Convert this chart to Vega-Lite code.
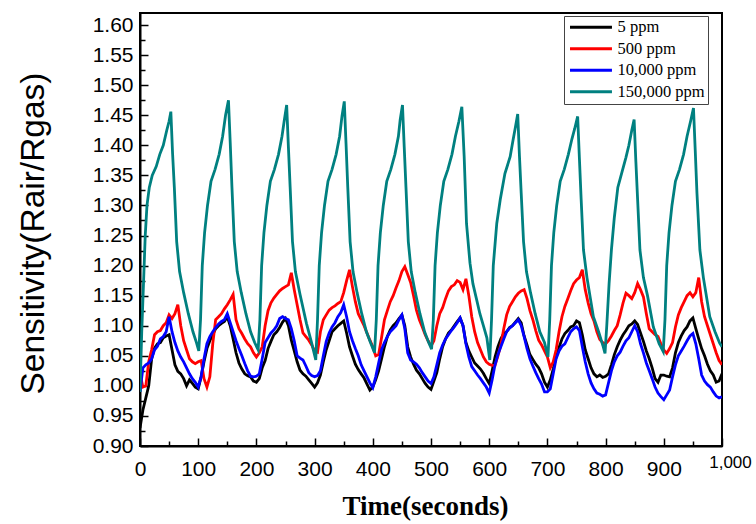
{
"$schema": "https://vega.github.io/schema/vega-lite/v6.json",
"width": 582, "height": 433,
"autosize": {"type": "none"},
"padding": {"left": 140, "top": 13, "right": 34, "bottom": 78},
"background": "white",
"config": {"view": {"stroke": "black", "strokeWidth": 2}, "legend": {"strokeWidth": 1}},
"data": {"values": [
{"t":0,"k":0.93,"r":1.02,"b":0.99},{"t":5,"k":0.96,"r":0.998,"b":1.03},{"t":10,"k":0.98,"r":1.0,"b":1.035},{"t":15,"k":1.0,"r":1.04,"b":1.038},{"t":20,"k":1.045,"r":1.06,"b":1.045},{"t":25,"k":1.063,"r":1.085,"b":1.06},{"t":30,"k":1.07,"r":1.09,"b":1.066},{"t":35,"k":1.072,"r":1.092,"b":1.078},{"t":40,"k":1.08,"r":1.1,"b":1.082},{"t":45,"k":1.083,"r":1.105,"b":1.09},
{"t":50,"k":1.085,"r":1.118,"b":1.115},{"t":55,"k":1.06,"r":1.112,"b":1.09},{"t":60,"k":1.035,"r":1.12,"b":1.072},{"t":65,"k":1.024,"r":1.135,"b":1.058},{"t":70,"k":1.02,"r":1.1,"b":1.048},{"t":75,"k":1.012,"r":1.075,"b":1.04},{"t":80,"k":1.0,"r":1.06,"b":1.03},{"t":85,"k":1.01,"r":1.045,"b":1.02},{"t":90,"k":1.004,"r":1.04,"b":1.012},{"t":95,"k":0.998,"r":1.037,"b":1.006},
{"t":100,"k":0.995,"r":1.04,"b":0.998},{"t":105,"k":1.015,"r":1.042,"b":1.015},{"t":110,"k":1.04,"r":1.012,"b":1.045},{"t":115,"k":1.062,"r":0.998,"b":1.07},{"t":120,"k":1.075,"r":1.015,"b":1.082},{"t":125,"k":1.085,"r":1.07,"b":1.09},{"t":130,"k":1.095,"r":1.11,"b":1.097},{"t":135,"k":1.1,"r":1.115,"b":1.103},{"t":140,"k":1.104,"r":1.12,"b":1.107},{"t":145,"k":1.107,"r":1.128,"b":1.11},
{"t":150,"k":1.115,"r":1.135,"b":1.12},{"t":155,"k":1.1,"r":1.143,"b":1.105},{"t":160,"k":1.078,"r":1.152,"b":1.09},{"t":165,"k":1.055,"r":1.11,"b":1.075},{"t":170,"k":1.038,"r":1.095,"b":1.062},{"t":175,"k":1.028,"r":1.087,"b":1.05},{"t":180,"k":1.02,"r":1.078,"b":1.037},{"t":185,"k":1.017,"r":1.07,"b":1.025},{"t":190,"k":1.015,"r":1.065,"b":1.016},{"t":195,"k":1.008,"r":1.055,"b":1.015},
{"t":200,"k":1.006,"r":1.048,"b":1.016},{"t":205,"k":1.012,"r":1.055,"b":1.02},{"t":210,"k":1.03,"r":1.065,"b":1.045},{"t":215,"k":1.042,"r":1.1,"b":1.072},{"t":220,"k":1.062,"r":1.125,"b":1.08},{"t":225,"k":1.074,"r":1.138,"b":1.088},{"t":230,"k":1.085,"r":1.146,"b":1.093},{"t":235,"k":1.09,"r":1.152,"b":1.1},{"t":240,"k":1.097,"r":1.158,"b":1.112},{"t":245,"k":1.106,"r":1.162,"b":1.115},
{"t":250,"k":1.112,"r":1.165,"b":1.112},{"t":255,"k":1.1,"r":1.168,"b":1.11},{"t":260,"k":1.076,"r":1.188,"b":1.095},{"t":265,"k":1.058,"r":1.16,"b":1.075},{"t":270,"k":1.04,"r":1.135,"b":1.05},{"t":275,"k":1.026,"r":1.11,"b":1.046},{"t":280,"k":1.02,"r":1.088,"b":1.043},{"t":285,"k":1.016,"r":1.082,"b":1.033},{"t":290,"k":1.01,"r":1.076,"b":1.022},{"t":295,"k":1.004,"r":1.068,"b":1.017},
{"t":300,"k":0.998,"r":1.058,"b":1.015},{"t":305,"k":1.005,"r":1.056,"b":1.017},{"t":310,"k":1.018,"r":1.09,"b":1.025},{"t":315,"k":1.04,"r":1.11,"b":1.05},{"t":320,"k":1.06,"r":1.118,"b":1.074},{"t":325,"k":1.075,"r":1.126,"b":1.088},{"t":330,"k":1.09,"r":1.13,"b":1.098},{"t":335,"k":1.095,"r":1.133,"b":1.105},{"t":340,"k":1.1,"r":1.137,"b":1.115},{"t":345,"k":1.104,"r":1.14,"b":1.122},
{"t":350,"k":1.108,"r":1.155,"b":1.135},{"t":355,"k":1.088,"r":1.175,"b":1.115},{"t":360,"k":1.065,"r":1.193,"b":1.09},{"t":365,"k":1.05,"r":1.165,"b":1.075},{"t":370,"k":1.036,"r":1.14,"b":1.062},{"t":375,"k":1.027,"r":1.12,"b":1.05},{"t":380,"k":1.02,"r":1.11,"b":1.035},{"t":385,"k":1.013,"r":1.1,"b":1.025},{"t":390,"k":1.003,"r":1.088,"b":1.015},{"t":395,"k":0.993,"r":1.076,"b":1.005},
{"t":400,"k":0.998,"r":1.065,"b":0.997},{"t":405,"k":1.01,"r":1.05,"b":1.015},{"t":410,"k":1.025,"r":1.052,"b":1.038},{"t":415,"k":1.045,"r":1.08,"b":1.06},{"t":420,"k":1.065,"r":1.11,"b":1.072},{"t":425,"k":1.082,"r":1.125,"b":1.082},{"t":430,"k":1.093,"r":1.14,"b":1.09},{"t":435,"k":1.1,"r":1.15,"b":1.095},{"t":440,"k":1.105,"r":1.163,"b":1.1},{"t":445,"k":1.112,"r":1.175,"b":1.11},
{"t":450,"k":1.118,"r":1.19,"b":1.118},{"t":455,"k":1.1,"r":1.198,"b":1.095},{"t":460,"k":1.065,"r":1.185,"b":1.055},{"t":465,"k":1.048,"r":1.172,"b":1.043},{"t":470,"k":1.036,"r":1.15,"b":1.04},{"t":475,"k":1.026,"r":1.126,"b":1.036},{"t":480,"k":1.02,"r":1.11,"b":1.03},{"t":485,"k":1.012,"r":1.098,"b":1.022},{"t":490,"k":1.004,"r":1.085,"b":1.015},{"t":495,"k":0.998,"r":1.075,"b":1.008},
{"t":500,"k":0.994,"r":1.066,"b":1.004},{"t":505,"k":1.008,"r":1.075,"b":1.015},{"t":510,"k":1.022,"r":1.1,"b":1.035},{"t":515,"k":1.045,"r":1.12,"b":1.055},{"t":520,"k":1.065,"r":1.13,"b":1.068},{"t":525,"k":1.078,"r":1.145,"b":1.078},{"t":530,"k":1.088,"r":1.158,"b":1.085},{"t":535,"k":1.093,"r":1.165,"b":1.092},{"t":540,"k":1.1,"r":1.168,"b":1.098},{"t":545,"k":1.107,"r":1.175,"b":1.105},
{"t":550,"k":1.113,"r":1.172,"b":1.113},{"t":555,"k":1.1,"r":1.16,"b":1.1},{"t":560,"k":1.072,"r":1.178,"b":1.07},{"t":565,"k":1.058,"r":1.15,"b":1.048},{"t":570,"k":1.048,"r":1.115,"b":1.032},{"t":575,"k":1.038,"r":1.09,"b":1.025},{"t":580,"k":1.033,"r":1.072,"b":1.018},{"t":585,"k":1.028,"r":1.06,"b":1.012},{"t":590,"k":1.021,"r":1.048,"b":1.005},{"t":595,"k":1.012,"r":1.04,"b":0.998},
{"t":600,"k":1.004,"r":1.036,"b":0.988},{"t":605,"k":1.025,"r":1.034,"b":1.01},{"t":610,"k":1.048,"r":1.034,"b":1.035},{"t":615,"k":1.065,"r":1.05,"b":1.052},{"t":620,"k":1.078,"r":1.068,"b":1.065},{"t":625,"k":1.087,"r":1.095,"b":1.078},{"t":630,"k":1.09,"r":1.118,"b":1.09},{"t":635,"k":1.097,"r":1.132,"b":1.096},{"t":640,"k":1.1,"r":1.14,"b":1.1},{"t":645,"k":1.106,"r":1.148,"b":1.105},
{"t":650,"k":1.112,"r":1.154,"b":1.11},{"t":655,"k":1.105,"r":1.158,"b":1.1},{"t":660,"k":1.083,"r":1.16,"b":1.082},{"t":665,"k":1.068,"r":1.145,"b":1.062},{"t":670,"k":1.052,"r":1.125,"b":1.045},{"t":675,"k":1.044,"r":1.11,"b":1.033},{"t":680,"k":1.036,"r":1.092,"b":1.022},{"t":685,"k":1.03,"r":1.076,"b":1.012},{"t":690,"k":1.02,"r":1.068,"b":1.003},{"t":695,"k":1.006,"r":1.058,"b":0.99},
{"t":700,"k":0.998,"r":1.048,"b":0.99},{"t":705,"k":1.01,"r":1.03,"b":0.995},{"t":710,"k":1.028,"r":1.04,"b":1.02},{"t":715,"k":1.048,"r":1.06,"b":1.045},{"t":720,"k":1.064,"r":1.09,"b":1.058},{"t":725,"k":1.078,"r":1.115,"b":1.066},{"t":730,"k":1.087,"r":1.132,"b":1.07},{"t":735,"k":1.092,"r":1.145,"b":1.08},{"t":740,"k":1.098,"r":1.158,"b":1.09},{"t":745,"k":1.1,"r":1.17,"b":1.095},
{"t":750,"k":1.108,"r":1.176,"b":1.098},{"t":755,"k":1.105,"r":1.18,"b":1.092},{"t":760,"k":1.085,"r":1.193,"b":1.065},{"t":765,"k":1.06,"r":1.16,"b":1.04},{"t":770,"k":1.045,"r":1.138,"b":1.02},{"t":775,"k":1.03,"r":1.12,"b":1.005},{"t":780,"k":1.02,"r":1.108,"b":0.995},{"t":785,"k":1.015,"r":1.09,"b":0.988},{"t":790,"k":1.018,"r":1.077,"b":0.986},{"t":795,"k":1.014,"r":1.072,"b":0.983},
{"t":800,"k":1.016,"r":1.07,"b":0.985},{"t":805,"k":1.02,"r":1.075,"b":1.005},{"t":810,"k":1.035,"r":1.083,"b":1.025},{"t":815,"k":1.052,"r":1.092,"b":1.04},{"t":820,"k":1.065,"r":1.1,"b":1.05},{"t":825,"k":1.076,"r":1.118,"b":1.056},{"t":830,"k":1.085,"r":1.138,"b":1.066},{"t":835,"k":1.092,"r":1.154,"b":1.075},{"t":840,"k":1.1,"r":1.15,"b":1.08},{"t":845,"k":1.103,"r":1.145,"b":1.09},
{"t":850,"k":1.108,"r":1.155,"b":1.1},{"t":855,"k":1.102,"r":1.17,"b":1.09},{"t":860,"k":1.088,"r":1.16,"b":1.07},{"t":865,"k":1.074,"r":1.148,"b":1.055},{"t":870,"k":1.058,"r":1.12,"b":1.038},{"t":875,"k":1.045,"r":1.095,"b":1.025},{"t":880,"k":1.03,"r":1.09,"b":1.012},{"t":885,"k":1.012,"r":1.085,"b":0.998},{"t":890,"k":1.006,"r":1.082,"b":0.988},{"t":895,"k":1.018,"r":1.07,"b":0.982},
{"t":900,"k":1.018,"r":1.06,"b":0.977},{"t":905,"k":1.016,"r":1.054,"b":0.985},{"t":910,"k":1.015,"r":1.062,"b":0.993},{"t":915,"k":1.03,"r":1.072,"b":1.015},{"t":920,"k":1.055,"r":1.098,"b":1.035},{"t":925,"k":1.072,"r":1.118,"b":1.05},{"t":930,"k":1.083,"r":1.13,"b":1.058},{"t":935,"k":1.092,"r":1.14,"b":1.066},{"t":940,"k":1.098,"r":1.15,"b":1.075},{"t":945,"k":1.108,"r":1.155,"b":1.083},
{"t":950,"k":1.113,"r":1.148,"b":1.087},{"t":955,"k":1.095,"r":1.155,"b":1.07},{"t":960,"k":1.078,"r":1.18,"b":1.045},{"t":965,"k":1.062,"r":1.14,"b":1.018},{"t":970,"k":1.05,"r":1.115,"b":1.008},{"t":975,"k":1.036,"r":1.1,"b":1.002},{"t":980,"k":1.025,"r":1.085,"b":0.998},{"t":985,"k":1.018,"r":1.07,"b":0.99},{"t":990,"k":1.006,"r":1.055,"b":0.983},{"t":995,"k":1.008,"r":1.042,"b":0.98},
{"t":1000,"k":1.02,"r":1.035,"b":0.982},
{"t":0,"g":0.99},{"t":3,"g":1.09},{"t":6,"g":1.17},{"t":9,"g":1.25},{"t":12,"g":1.3},{"t":16,"g":1.33},{"t":21,"g":1.35},{"t":28,"g":1.365},{"t":34,"g":1.385},{"t":40,"g":1.4},{"t":46,"g":1.425},{"t":50,"g":1.44},{"t":53,"g":1.456},{"t":56,"g":1.386},{"t":59,"g":1.33},{"t":63,"g":1.24},{"t":68,"g":1.19},{"t":75,"g":1.155},{"t":83,"g":1.12},{"t":91,"g":1.09},{"t":97,"g":1.072},{"t":101,"g":1.058},
{"t":104,"g":1.11},{"t":107,"g":1.2},{"t":111,"g":1.255},{"t":116,"g":1.3},{"t":122,"g":1.34},{"t":129,"g":1.36},{"t":136,"g":1.385},{"t":142,"g":1.415},{"t":147,"g":1.45},{"t":152,"g":1.475},{"t":155,"g":1.405},{"t":158,"g":1.33},{"t":162,"g":1.24},{"t":167,"g":1.19},{"t":174,"g":1.155},{"t":182,"g":1.12},{"t":190,"g":1.09},{"t":197,"g":1.072},{"t":203,"g":1.06},
{"t":206,"g":1.11},{"t":209,"g":1.2},{"t":213,"g":1.255},{"t":218,"g":1.3},{"t":224,"g":1.34},{"t":231,"g":1.36},{"t":238,"g":1.385},{"t":244,"g":1.415},{"t":248,"g":1.442},{"t":252,"g":1.467},{"t":255,"g":1.397},{"t":258,"g":1.33},{"t":262,"g":1.24},{"t":267,"g":1.19},{"t":275,"g":1.152},{"t":286,"g":1.104},{"t":295,"g":1.071},{"t":302,"g":1.043},
{"t":305,"g":1.11},{"t":308,"g":1.2},{"t":312,"g":1.255},{"t":317,"g":1.3},{"t":323,"g":1.34},{"t":330,"g":1.36},{"t":337,"g":1.385},{"t":343,"g":1.415},{"t":347,"g":1.448},{"t":351,"g":1.473},{"t":354,"g":1.403},{"t":357,"g":1.33},{"t":361,"g":1.24},{"t":366,"g":1.19},{"t":373,"g":1.155},{"t":381,"g":1.12},{"t":389,"g":1.09},{"t":396,"g":1.072},{"t":403,"g":1.055},
{"t":406,"g":1.11},{"t":409,"g":1.2},{"t":413,"g":1.255},{"t":418,"g":1.3},{"t":424,"g":1.34},{"t":431,"g":1.36},{"t":438,"g":1.385},{"t":444,"g":1.415},{"t":447,"g":1.442},{"t":451,"g":1.467},{"t":454,"g":1.397},{"t":457,"g":1.33},{"t":461,"g":1.24},{"t":466,"g":1.19},{"t":473,"g":1.155},{"t":481,"g":1.12},{"t":489,"g":1.09},{"t":496,"g":1.072},{"t":501,"g":1.061},
{"t":504,"g":1.11},{"t":507,"g":1.2},{"t":511,"g":1.255},{"t":516,"g":1.3},{"t":522,"g":1.34},{"t":529,"g":1.36},{"t":536,"g":1.385},{"t":542,"g":1.415},{"t":548,"g":1.44},{"t":553,"g":1.464},{"t":557,"g":1.381},{"t":561,"g":1.27},{"t":567,"g":1.204},{"t":572,"g":1.17},{"t":578,"g":1.145},{"t":584,"g":1.12},{"t":590,"g":1.1},{"t":596,"g":1.08},{"t":601,"g":1.043},
{"t":604,"g":1.11},{"t":607,"g":1.2},{"t":613,"g":1.27},{"t":619,"g":1.31},{"t":627,"g":1.353},{"t":636,"g":1.381},{"t":641,"g":1.409},{"t":645,"g":1.43},{"t":649,"g":1.452},{"t":652,"g":1.382},{"t":655,"g":1.32},{"t":659,"g":1.24},{"t":664,"g":1.19},{"t":671,"g":1.155},{"t":679,"g":1.12},{"t":687,"g":1.09},{"t":695,"g":1.072},{"t":701,"g":1.048},
{"t":704,"g":1.11},{"t":707,"g":1.2},{"t":711,"g":1.255},{"t":716,"g":1.3},{"t":722,"g":1.34},{"t":729,"g":1.36},{"t":736,"g":1.385},{"t":742,"g":1.41},{"t":747,"g":1.428},{"t":752,"g":1.448},{"t":755,"g":1.378},{"t":758,"g":1.31},{"t":762,"g":1.226},{"t":768,"g":1.18},{"t":779,"g":1.115},{"t":788,"g":1.09},{"t":796,"g":1.065},{"t":799,"g":1.054},
{"t":802,"g":1.1},{"t":806,"g":1.17},{"t":810,"g":1.226},{"t":815,"g":1.28},{"t":821,"g":1.33},{"t":828,"g":1.355},{"t":835,"g":1.38},{"t":840,"g":1.4},{"t":845,"g":1.425},{"t":849,"g":1.443},{"t":852,"g":1.373},{"t":855,"g":1.31},{"t":859,"g":1.226},{"t":865,"g":1.18},{"t":872,"g":1.15},{"t":882,"g":1.098},{"t":892,"g":1.07},{"t":899,"g":1.057},
{"t":902,"g":1.11},{"t":905,"g":1.2},{"t":909,"g":1.255},{"t":914,"g":1.3},{"t":920,"g":1.34},{"t":927,"g":1.36},{"t":934,"g":1.385},{"t":940,"g":1.415},{"t":946,"g":1.44},{"t":951,"g":1.462},{"t":954,"g":1.392},{"t":957,"g":1.32},{"t":962,"g":1.226},{"t":968,"g":1.18},{"t":979,"g":1.115},{"t":988,"g":1.09},{"t":996,"g":1.071},{"t":1000,"g":1.065}
]},
"transform": [
 {"fold": ["k", "r", "b", "g"], "as": ["key", "value"]},
 {"filter": "isValid(datum.value)"}
],
"layer": [
 {
  "mark": {"type": "line", "strokeWidth": 2.8, "clip": true},
  "encoding": {
   "x": {"field": "t", "type": "quantitative",
     "scale": {"domain": [0, 1000], "nice": false},
     "axis": {"values": [0,100,200,300,400,500,600,700,800,900,1000], "format": ",.0f", "grid": false,
       "tickSize": -8, "tickWidth": 1.5, "tickColor": "black", "domainColor": "black", "domainWidth": 2,
       "labelFont": "Liberation Sans", "labelFontSize": {"condition": {"test": "datum.value == 1000", "value": 17}, "value": 21}, "labelColor": "black",
       "labelPadding": {"condition": {"test": "datum.value == 1000", "value": 16}, "value": 20},
       "labelOffset": {"condition": {"test": "datum.value == 1000", "value": 8}, "value": 0},
       "labelFlush": false, "labelOverlap": false,
       "title": "Time(seconds)", "titleFont": "Liberation Serif", "titleFontWeight": "bold", "titleFontSize": 27, "titleColor": "black",
       "titleX": 285, "titleY": 68, "titleBaseline": "alphabetic", "titleAlign": "center"}},
   "y": {"field": "value", "type": "quantitative",
     "scale": {"domain": [0.9, 1.62], "nice": false, "zero": false},
     "axis": {"values": [0.9,0.95,1.0,1.05,1.1,1.15,1.2,1.25,1.3,1.35,1.4,1.45,1.5,1.55,1.6], "format": ".2f", "grid": false,
       "tickSize": -8, "tickWidth": 1.5, "tickColor": "black", "domainColor": "black", "domainWidth": 2,
       "labelFont": "Liberation Sans", "labelFontSize": 21, "labelColor": "black", "labelPadding": 15,
       "labelFlush": false, "labelOverlap": false,
       "title": "Sensitivity(Rair/Rgas)", "titleFont": "Liberation Sans", "titleFontWeight": "normal", "titleFontSize": 33.5, "titleColor": "black",
       "titleX": -97, "titleY": 220, "titleBaseline": "alphabetic", "titleAlign": "center", "titleAngle": -90}},
   "color": {"field": "key", "type": "nominal",
     "scale": {"domain": ["k", "r", "b", "g"], "range": ["#000000", "#ff0000", "#0000ff", "#008080"]},
     "legend": {"orient": "none", "legendX": 424, "legendY": 3, "title": null,
       "labelExpr": "datum.label == 'k' ? '5 ppm' : datum.label == 'r' ? '500 ppm' : datum.label == 'b' ? '10,000 ppm' : '150,000 ppm'",
       "labelFont": "Liberation Serif", "labelFontSize": 16.5, "labelColor": "black",
       "symbolType": "M-1,0H7", "symbolSize": 110, "symbolStrokeWidth": 3, "labelOffset": 34,
       "strokeColor": "#444444", "fillColor": "white", "padding": 3, "rowPadding": 4.5}}
  }
 },
 {
  "mark": {"type": "line", "opacity": 0},
  "encoding": {
   "x": {"field": "t", "type": "quantitative",
     "axis": {"values": [50,150,250,350,450,550,650,750,850,950], "labels": false, "domain": false, "grid": false,
       "tickSize": -5, "tickWidth": 1.5, "tickColor": "black", "title": null, "orient": "bottom"}},
   "y": {"field": "value", "type": "quantitative",
     "axis": {"values": [0.925,0.975,1.025,1.075,1.125,1.175,1.225,1.275,1.325,1.375,1.425,1.475,1.525,1.575], "labels": false, "domain": false, "grid": false,
       "tickSize": -5, "tickWidth": 1.5, "tickColor": "black", "title": null, "orient": "left"}},
   "detail": {"field": "key", "type": "nominal"}
  }
 }
],
"resolve": {"axis": {"x": "independent", "y": "independent"}}
}
